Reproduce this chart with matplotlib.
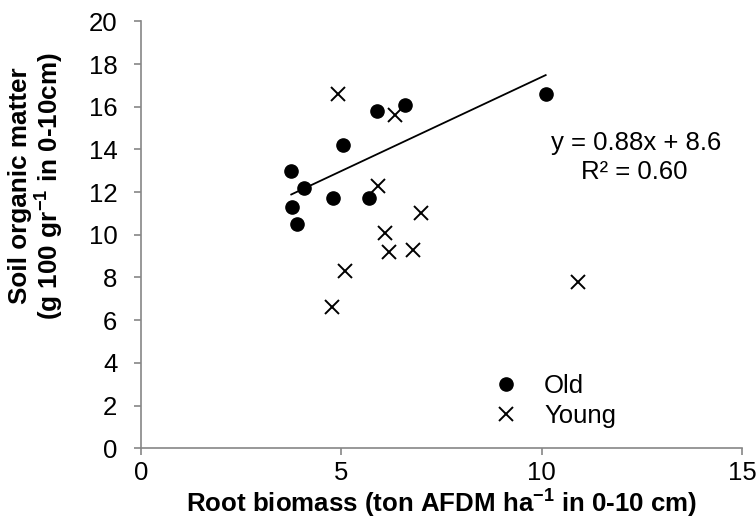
import matplotlib
matplotlib.use("Agg")
import matplotlib.pyplot as plt
import numpy as np

plt.rcParams['font.family'] = ['Liberation Sans', 'DejaVu Sans']
plt.rcParams['mathtext.fontset'] = 'custom'
plt.rcParams['mathtext.rm'] = 'Liberation Sans'
plt.rcParams['mathtext.bf'] = 'Liberation Sans:bold'

# Old stands
old_x = [3.75, 4.07, 3.78, 3.9, 5.05, 4.8, 5.7, 5.9, 6.6, 10.1]
old_y = [13.0, 12.2, 11.3, 10.5, 14.2, 11.7, 11.7, 15.8, 16.1, 16.6]
# Young stands
young_x = [4.92, 6.35, 5.92, 7.0, 6.1, 6.2, 6.8, 5.1, 4.77, 10.9]
young_y = [16.6, 15.6, 12.3, 11.0, 10.1, 9.2, 9.3, 8.3, 6.6, 7.8]

x_ticks = [0, 5, 10, 15]
y_ticks = [0, 2, 4, 6, 8, 10, 12, 14, 16, 18, 20]

fs = 18.5

fig = plt.figure(figsize=(7.56, 5.2), dpi=100)
ax = fig.add_axes([0.1865, 0.138, 0.795, 0.821])

ax.plot(old_x, old_y, 'o', color='black', markersize=9.5, label='Old', linestyle='none')
ax.plot(young_x, young_y, 'x', color='black', markersize=10, markeredgewidth=1.4,
        label='Young', linestyle='none')

# linear trend for the old stands
k, b = np.polyfit(old_x, old_y, 1)
xs = np.array([min(old_x), max(old_x)])
ax.plot(xs, k * xs + b, color='black', linewidth=1.3)

ax.text(12.35, 14.3, 'y = 0.88x + 8.6', ha='center', va='center', fontsize=fs)
ax.text(12.3, 12.95, 'R² = 0.60', ha='center', va='center', fontsize=fs)

ax.set_xlim(0, 15)
ax.set_ylim(0, 20)
ax.set_xticks(x_ticks)
ax.set_yticks(y_ticks)
ax.tick_params(labelsize=fs, color='#868686', length=5, width=1.2)
ax.tick_params(axis='x', pad=4.5)
ax.tick_params(axis='y', pad=12)
for s in ['top', 'right']:
    ax.spines[s].set_visible(False)
for s in ['left', 'bottom']:
    ax.spines[s].set_color('#868686')
    ax.spines[s].set_linewidth(1.2)

ax.set_xlabel(r'Root biomass (ton AFDM ha$^{\mathbf{-1}}$ in 0-10 cm)',
              fontsize=18.6, fontweight='bold', labelpad=0.5)
ax.set_ylabel('Soil organic matter\n' + r'(g 100 gr$^{\mathbf{-1}}$ in 0-10cm)',
              fontsize=18.8, fontweight='bold', linespacing=1.0)
ax.yaxis.set_label_coords(-0.126, 0.615)

ax.legend(loc='center left', bbox_to_anchor=(0.564, 0.11), frameon=False, fontsize=fs,
          borderpad=0, handletextpad=1.0, labelspacing=0.25, handlelength=1.0)

plt.savefig('out.png', dpi=100)
